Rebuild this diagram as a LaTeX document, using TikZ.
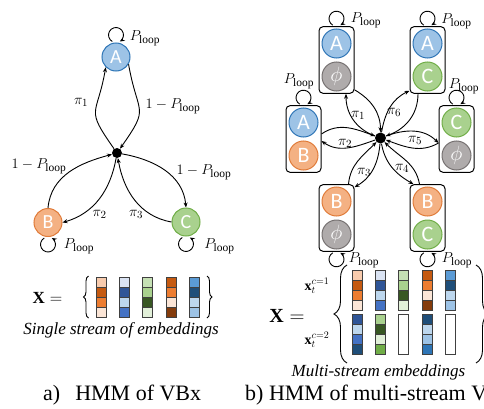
\documentclass[tikz,border=0pt]{standalone}
\usepackage{fontspec}
\setmainfont{Liberation Serif}
\newfontfamily\carlito{Carlito}
\usetikzlibrary{arrows.meta,decorations.pathreplacing,calc}

% state colours
\definecolor{stAfill}{HTML}{9DC3E6}\definecolor{stAline}{HTML}{2E75B6}
\definecolor{stBfill}{HTML}{F4B183}\definecolor{stBline}{HTML}{E07B39}
\definecolor{stCfill}{HTML}{A9D18E}\definecolor{stCline}{HTML}{70AD47}
\definecolor{stNfill}{HTML}{AFABAB}\definecolor{stNline}{HTML}{767171}
% embedding cell colours
\definecolor{ePeach}{HTML}{F8CBAD}\definecolor{eOrD}{HTML}{C55A11}
\definecolor{eOr}{HTML}{ED7D31}\definecolor{ePeachL}{HTML}{FBE5D6}
\definecolor{eBrown}{HTML}{843C0C}
\definecolor{eBlueL}{HTML}{DAE3F3}\definecolor{eBlueD}{HTML}{2F5597}
\definecolor{eBlueM}{HTML}{BDD7EE}\definecolor{eBlue}{HTML}{4472C4}
\definecolor{eBlueA}{HTML}{5B9BD5}\definecolor{eNavy}{HTML}{1F4E79}
\definecolor{eBlueS}{HTML}{9DC3E6}\definecolor{eBlueB}{HTML}{2E75B6}
\definecolor{eGreenL}{HTML}{C5E0B4}\definecolor{eGreen}{HTML}{A9D18E}
\definecolor{eGreenD}{HTML}{385723}\definecolor{eGreenLL}{HTML}{E2F0D9}
\definecolor{eGreenM}{HTML}{70AD47}

\newcommand{\Pl}{P_{\hbox{\fontsize{11.5}{12}\selectfont loop}}}
% one embedding column: x centre, top y, list of four cell colours
\newcommand{\embcol}[3]{%
  \foreach \cc [count=\ii] in {#3} {%
    \filldraw[cell, fill=\cc] ({#1-5},{#2-10*\ii+10}) rectangle ++(10,-10);
  }}
\newcommand{\embempty}[2]{\filldraw[cell, fill=white] ({#1-5},#2) rectangle ++(10,-40);}
% self-transition loops above / below a node
\newcommand{\looptop}[1]{\draw[arr] ([xshift=-3.75pt,yshift=1pt]#1.north) arc[start angle=240,end angle=-60,radius=7.5pt];}
\newcommand{\loopbottom}[1]{\draw[arr] ([xshift=-3.75pt,yshift=-1pt]#1.south) arc[start angle=120,end angle=420,radius=7.5pt];}

\tikzset{
  arr/.style={-{Stealth[length=5pt,width=4pt]}, line width=0.9pt},
  state/.style={circle, inner sep=0pt, minimum size=28pt, line width=1pt, text=white,
    font=\carlito\fontsize{20}{20}\selectfont},
  bigstate/.style={state, minimum size=29pt, font=\carlito\fontsize{22}{22}\selectfont},
  stA/.style={fill=stAfill, draw=stAline},
  stB/.style={fill=stBfill, draw=stBline},
  stC/.style={fill=stCfill, draw=stCline},
  stN/.style={fill=stNfill, draw=stNline},
  pair/.style={draw, rounded corners=4pt, line width=1pt, minimum width=35pt,
    minimum height=66.6pt, inner sep=0pt},
  junction/.style={circle, fill=black, inner sep=0pt, minimum size=10pt},
  lbl/.style={font=\fontsize{15}{18}\selectfont, inner sep=1pt},
  streamlbl/.style={font=\fontsize{14}{16}\selectfont, inner sep=0pt},
  cell/.style={draw=black!75, line width=0.7pt},
  brace/.style={decorate, decoration={brace, amplitude=#1}, line width=0.9pt},
  caption/.style={font=\itshape\fontsize{17}{20}\selectfont, anchor=base},
  title/.style={font=\fontsize{22}{26}\selectfont, anchor=base west, inner sep=0pt},
}

\begin{document}
\begin{tikzpicture}[x=1pt,y=1pt]
\useasboundingbox (0,0) rectangle (484,408);
\clip (0,0) rectangle (484,408);

% ---------- (a) single-stream HMM ----------
\node[state, stA] (A) at (116,351) {A};
\node[state, stB] (B) at (48,185.5) {B};
\node[state, stC] (C) at (186,186) {C};
\node[junction] (J) at (117,255) {};

\draw[arr] (J) to[out=125,in=-100,looseness=1.6] (A.-135);
\draw[arr] (A.-30) to[out=-80,in=55,looseness=1.6] (J);
\draw[arr] (B.90) to[out=85,in=195] (J);
\draw[arr] (J) to[out=-100,in=16] (B.0);
\draw[arr] (J) to[out=-10,in=95] (C.90);
\draw[arr] (C.180) to[out=170,in=-80] (J);

\looptop{A}
\loopbottom{B}
\loopbottom{C}

\node[lbl] (lA) at (145,370) {$\Pl$};
\node[lbl] (lB) at (79,162) {$\Pl$};
\node[lbl] (lC) at (219.5,162) {$\Pl$};
\node[lbl] (p1) at (81,306) {$\pi_1$};
\node[lbl] (q1) at (173,302) {$1-\Pl$};
\node[lbl] (q2) at (39,242) {$1-\Pl$};
\node[lbl] (q3) at (204,236) {$1-\Pl$};
\node[lbl] (p2) at (99.5,194) {$\pi_2$};
\node[lbl] (p3) at (136,194) {$\pi_3$};

% single stream of embeddings
\node[font=\fontsize{17}{20}\selectfont] (XL) at (47.5,110) {$\mathbf{X} =$};
\draw[brace=5pt] (88.5,90) -- (88.5,132);
\draw[brace=5pt] (207,132) -- (207,90);
\embcol{101}{131}{ePeach,eOrD,eOr,ePeachL}
\embcol{124.4}{131}{eBlueL,eBlueD,eBlueM,eBlue}
\embcol{147.7}{131}{eGreenL,eGreen,eGreenD,eGreenLL}
\embcol{171.1}{131}{eOrD,eOr,ePeachL,eBrown}
\embcol{194.4}{131}{eBlueA,eNavy,eBlueM,eBlueS}
\node[caption] (capL) at (121,73.5) {Single stream of embeddings};
\node[title] (tL) at (43,7.3) {a)\hspace{15pt}HMM of VBx};

% ---------- (b) multi-stream HMM ----------
\node[junction, minimum size=11pt] (K) at (380.5,270) {};

\node[pair] (b1) at (336.5,348) {};
\node[pair] (b2) at (427.5,348) {};
\node[pair] (b3) at (303.5,269) {};
\node[pair] (b4) at (456.5,269) {};
\node[pair] (b5) at (336.5,190) {};
\node[pair] (b6) at (427.5,190) {};

\node[bigstate, stA] (b1u) at ($(b1)+(0,16.5)$) {A};
\node[bigstate, stN] (b1d) at ($(b1)+(0,-16.5)$) {$\phi$};
\node[bigstate, stA] (b2u) at ($(b2)+(0,16.5)$) {A};
\node[bigstate, stC] (b2d) at ($(b2)+(0,-16.5)$) {C};
\node[bigstate, stA] (b3u) at ($(b3)+(0,16.5)$) {A};
\node[bigstate, stB] (b3d) at ($(b3)+(0,-16.5)$) {B};
\node[bigstate, stC] (b4u) at ($(b4)+(0,16.5)$) {C};
\node[bigstate, stN] (b4d) at ($(b4)+(0,-16.5)$) {$\phi$};
\node[bigstate, stB] (b5u) at ($(b5)+(0,16.5)$) {B};
\node[bigstate, stN] (b5d) at ($(b5)+(0,-16.5)$) {$\phi$};
\node[bigstate, stB] (b6u) at ($(b6)+(0,16.5)$) {B};
\node[bigstate, stC] (b6d) at ($(b6)+(0,-16.5)$) {C};

% petals between the junction and each pair
\draw[arr] (K) to[out=160,in=-90] ([xshift=9.5pt]b1.south);
\draw[arr] ([yshift=4pt]b1.south east) to[out=-30,in=90] (K);
\draw[arr] (K) to[out=80,in=-155] ([yshift=3pt]b2.south west);
\draw[arr] ([xshift=-9.5pt]b2.south) to[out=-90,in=20] (K);
\draw[arr] ([yshift=5pt]b3.east) to[out=35,in=160] (K);
\draw[arr] (K) to[out=-160,in=-35] ([yshift=-2pt]b3.east);
\draw[arr] (K) to[out=20,in=135] ([yshift=-4pt]b4.west);
\draw[arr] ([yshift=-4pt]b4.west) to[out=-150,in=-20] (K);
\draw[arr] ([xshift=12pt]b5.north) to[out=85,in=-135] (K);
\draw[arr] (K) to[out=-95,in=30] ([yshift=-3pt]b5.north east);
\draw[arr] (K) to[out=-80,in=150] ([xshift=4pt]b6.north west);
\draw[arr] ([xshift=-8pt]b6.north) to[out=100,in=-45] (K);

\node[lbl] (r1) at (358,293) {$\pi_1$};
\node[lbl] (r2) at (345,265) {$\pi_2$};
\node[lbl] (r3) at (364,236) {$\pi_3$};
\node[lbl] (r4) at (402,240) {$\pi_4$};
\node[lbl] (r5) at (415,268) {$\pi_5$};
\node[lbl] (r6) at (394,296) {$\pi_6$};

\looptop{b1}
\looptop{b2}
\looptop{b3}
\looptop{b4}
\loopbottom{b5}
\loopbottom{b6}
\node[lbl] (m1) at (366,388) {$\Pl$};
\node[lbl] (m2) at (456.5,387) {$\Pl$};
\node[lbl] (m3) at (299,326.5) {$\Pl$};
\node[lbl] (m4) at (464,322) {$\Pl$};
\node[lbl] (m5) at (364,148) {$\Pl$};
\node[lbl] (m6) at (457,148) {$\Pl$};

% multi-stream embeddings
\node[font=\fontsize{20}{24}\selectfont] (XR) at (287,92) {$\mathbf{X} =$};
\node[streamlbl] (s1) at (317,122) {$\mathbf{x}_t^{c=1}$};
\node[streamlbl] (s2) at (317,68) {$\mathbf{x}_t^{c=2}$};
\draw[brace=13pt] (347,45) -- (347,143);
\draw[brace=13pt] (476,143) -- (476,45);
\embcol{357}{137.5}{ePeach,eOrD,eOr,ePeachL}
\embcol{380.3}{137.5}{eBlueL,eBlueD,eBlueM,eBlue}
\embcol{403.6}{137.5}{eGreenL,eGreen,eGreenD,eGreenLL}
\embcol{426.9}{137.5}{eOrD,eOr,ePeachL,eBrown}
\embcol{450.2}{137.5}{eBlueA,eNavy,eBlueM,eBlueS}
\embcol{357}{94}{eBlueD,eBlueM,eBlue,eNavy}
\embcol{380.3}{94}{eGreen,eGreenD,eGreenLL,eGreenM}
\embempty{403.6}{94}
\embcol{426.9}{94}{eNavy,eBlueM,eBlueS,eBlueB}
\embempty{450.2}{94}
\node[caption] (capR) at (378.5,31.3) {Multi-stream embeddings};
\node[title] (tR) at (245,7.3) {b) HMM of multi-stream VBx};
\end{tikzpicture}
\end{document}
